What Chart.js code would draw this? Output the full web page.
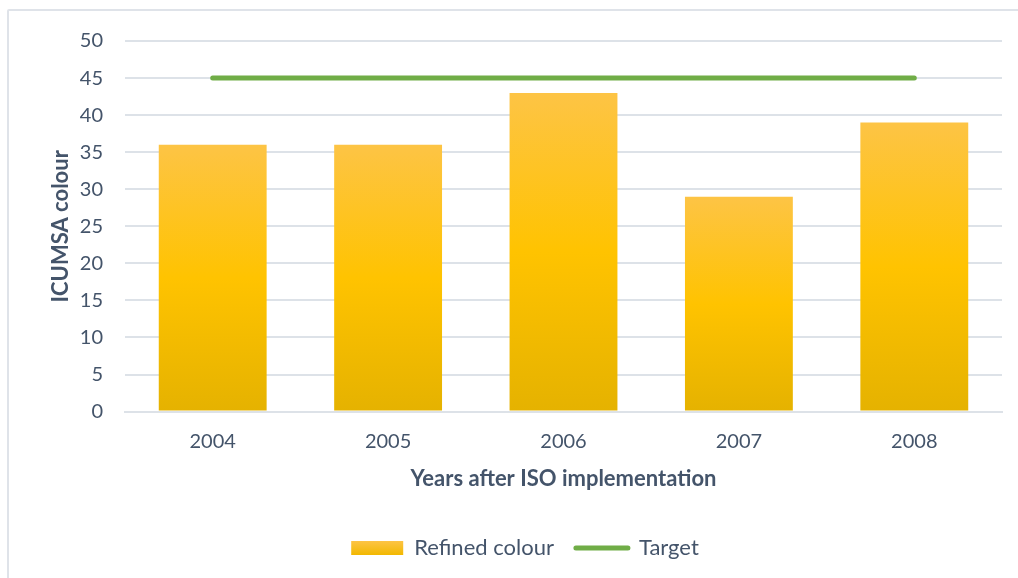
<!DOCTYPE html>
<html>
<head>
<meta charset="utf-8">
<script src="https://cdn.jsdelivr.net/npm/chart.js@4"></script>
<style>
  html, body { margin: 0; padding: 0; background: #fff; overflow: hidden; }
  #wrap { position: relative; width: 1018px; height: 578px; }
  #frame { position: absolute; left: 7px; top: 9px; width: 1100px; height: 700px; border: 2px solid #dfe3e9; border-radius: 2px; }
  canvas { position: absolute; left: 0; top: 0; }
</style>
</head>
<body>
<div id="wrap">
  <div id="frame"></div>
  <canvas id="bar-chart" width="1018" height="578"></canvas>
</div>
<script>
const years = ["2004", "2005", "2006", "2007", "2008"];
const refinedColour = [36, 36, 43, 29, 39];
const target = [45, 45, 45, 45, 45];

const textColor = "#44546a";
const gridColor = "#dde2e8";
const fontFamily = "Lato, 'Open Sans', sans-serif";

// each bar gets its own top-to-bottom gradient
function barFill(context) {
    const chart = context.chart;
    if (!chart.chartArea || context.type !== "data") return "#ffc000";
    const y = chart.scales.y;
    const top = y.getPixelForValue(context.parsed.y);
    const bottom = y.getPixelForValue(0);
    const g = chart.ctx.createLinearGradient(0, top, 0, bottom);
    g.addColorStop(0, "#fdc445");
    g.addColorStop(0.5, "#ffc300");
    g.addColorStop(1, "#e5b200");
    return g;
}

function legendFill(chart) {
    const g = chart.ctx.createLinearGradient(0, 541, 0, 555);
    g.addColorStop(0, "#fdc445");
    g.addColorStop(1, "#f2b800");
    return g;
}

const ctx = document.getElementById("bar-chart");
new Chart(ctx, {
    data: {
        labels: years,
        datasets: [
            {
                type: "line",
                label: "Target",
                data: target,
                borderColor: "#70ad47",
                backgroundColor: "#70ad47",
                borderWidth: 5,
                borderCapStyle: "round",
                pointRadius: 0,
                order: 0,
            },
            {
                type: "bar",
                label: "Refined colour",
                data: refinedColour,
                backgroundColor: barFill,
                barPercentage: 0.615,
                categoryPercentage: 1,
                order: 1,
            },
        ],
    },
    options: {
        responsive: false,
        animation: false,
        layout: { padding: { left: 48, right: 16, top: 41, bottom: 9 } },
        plugins: {
            tooltip: { enabled: false },
            legend: {
                position: "bottom",
                labels: {
                    color: textColor,
                    font: { family: fontFamily, size: 22 },
                    usePointStyle: true,
                    pointStyleWidth: 52,
                    boxHeight: 14,
                    padding: 22,
                    generateLabels: (chart) => [
                        {
                            text: "Refined colour",
                            fillStyle: legendFill(chart),
                            strokeStyle: "rgba(0,0,0,0)",
                            lineWidth: 0,
                            pointStyle: "rect",
                            fontColor: textColor,
                            datasetIndex: 1,
                        },
                        {
                            text: "Target",
                            fillStyle: "#70ad47",
                            strokeStyle: "#70ad47",
                            lineWidth: 5,
                            lineCap: "round",
                            pointStyle: "line",
                            fontColor: textColor,
                            datasetIndex: 0,
                        },
                    ],
                },
            },
        },
        scales: {
            x: {
                grid: { display: false },
                border: { color: gridColor, width: 2 },
                ticks: { color: textColor, font: { family: fontFamily, size: 20 }, padding: 10 },
                title: {
                    display: true,
                    text: "Years after ISO implementation",
                    color: textColor,
                    font: { family: fontFamily, size: 22, weight: "bold" },
                    padding: { top: 2, bottom: 23 },
                },
            },
            y: {
                min: 0,
                max: 50,
                afterFit: (scale) => { scale.width = 77; },
                ticks: { stepSize: 5, color: textColor, font: { family: fontFamily, size: 20 }, padding: 22 },
                grid: { color: gridColor, lineWidth: 2, drawTicks: false },
                border: { display: false },
                title: {
                    display: true,
                    text: "ICUMSA colour",
                    color: textColor,
                    font: { family: fontFamily, size: 22, weight: "bold" },
                    padding: { top: 0, bottom: 4 },
                },
            },
        },
    },
});
</script>
</body>
</html>
